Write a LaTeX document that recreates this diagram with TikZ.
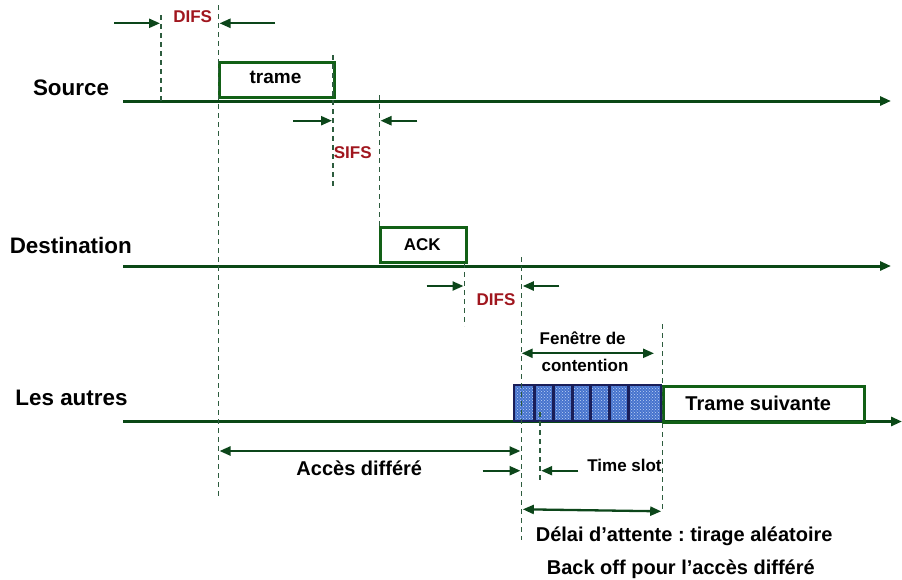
\documentclass[tikz,border=0pt]{standalone}
\usepackage{fontspec}
\setmainfont{Liberation Sans}
\usetikzlibrary{arrows.meta,patterns}
\frenchspacing

\definecolor{axisgreen}{RGB}{10,72,22}
\definecolor{framegreen}{RGB}{18,96,22}
\definecolor{dimgreen}{RGB}{12,70,26}
\definecolor{guidegreen}{RGB}{45,92,62}
\definecolor{ifsred}{RGB}{160,22,30}
\definecolor{slotnavy}{RGB}{26,30,88}
\definecolor{slotblue}{RGB}{70,115,205}
\definecolor{slotlight}{RGB}{190,210,245}

\tikzset{
  station/.style={font=\bfseries\fontsize{22.4}{26}\selectfont, inner sep=0pt},
  timeaxis/.style={draw=axisgreen, line width=3pt, -{Triangle[length=11pt,width=9pt]}},
  framebox/.style={draw=framegreen, line width=3pt, inner sep=0pt, anchor=north west},
  guide/.style={draw=guidegreen, line width=1.3pt, dash pattern=on 5pt off 4pt},
  dimarrow/.style={draw=dimgreen, line width=2.3pt, -{Triangle[length=11pt,width=9pt]}},
  dimboth/.style={draw=dimgreen, line width=2.3pt, {Triangle[length=11pt,width=9pt]}-{Triangle[length=11pt,width=9pt]}},
  ifslabel/.style={text=ifsred, font=\bfseries\fontsize{17}{20}\selectfont, inner sep=0pt},
  txt/.style={font=\bfseries\fontsize{20}{24}\selectfont, inner sep=0pt},
  smalltxt/.style={font=\bfseries\fontsize{17}{20}\selectfont, inner sep=0pt},
}

\begin{document}
\begin{tikzpicture}[x=1pt, y=-1pt]
\useasboundingbox (0,0) rectangle (902,579);

% ---- station labels
\node[station] (src) at (71,88)    {Source};
\node[station] (dst) at (70.8,245) {Destination};
\node[station] (oth) at (71.5,398) {Les autres};

% ---- time axes
\coordinate (srcA) at (123,101);   \coordinate (srcB) at (891,101);
\coordinate (dstA) at (123,266);   \coordinate (dstB) at (891,266);
\coordinate (othA) at (123,421.5); \coordinate (othB) at (902,421.5);
\draw[timeaxis] (srcA) -- (srcB);
\draw[timeaxis] (dstA) -- (dstB);
\draw[timeaxis] (othA) -- (othB);

% ---- frames
\node[framebox, minimum width=115pt, minimum height=35pt] (trame) at (218.3,61) {};
\node[txt, font=\bfseries\fontsize{19}{22}\selectfont] (trameT) at (275.5,77.5) {trame};
\node[framebox, minimum width=85.7pt, minimum height=35.3pt] (ack) at (379.3,225.7) {};
\node[smalltxt] (ackT) at (422.3,245) {ACK};
\node[framebox, minimum width=201pt, minimum height=35.7pt] (next) at (661.7,385) {};
\node[txt] (nextT) at (758.3,403) {Trame suivante};

% ---- contention window slots
\fill[slotblue] (514,385) rectangle (660.7,420.7);
\fill[pattern=crosshatch dots, pattern color=slotlight] (514,385) rectangle (660.7,420.7);
\draw[slotnavy, line width=2.4pt] (514,385) rectangle (660.7,420.7);
\foreach \xs in {534.7,553.7,572.2,590.7,609.7,628.3}
  \draw[slotnavy, line width=2.6pt] (\xs,385) -- (\xs,420.7);

% ---- dashed time marks
\coordinate (g1a) at (161,15);    \coordinate (g1b) at (161,101);
\coordinate (g2a) at (218.3,5);   \coordinate (g2b) at (218.3,499);
\coordinate (g3a) at (333,55);    \coordinate (g3b) at (333,189);
\coordinate (g4a) at (379.3,95);  \coordinate (g4b) at (379.3,226);
\coordinate (g5a) at (464.5,263); \coordinate (g5b) at (464.5,326);
\coordinate (g6a) at (521.7,257); \coordinate (g6b) at (521.7,540);
\coordinate (g7a) at (662.3,324); \coordinate (g7b) at (662.3,512);
\coordinate (g8a) at (540,412);   \coordinate (g8b) at (540,481);
\foreach \g in {1,...,8}
  \draw[guide] (g\g a) -- (g\g b);

% ---- DIFS (source)
\coordinate (d1a) at (114,23.3);  \coordinate (d1b) at (160,23.3);
\coordinate (d1c) at (275,23.3);  \coordinate (d1d) at (219.5,23.3);
\draw[dimarrow] (d1a) -- (d1b);
\draw[dimarrow] (d1c) -- (d1d);
\node[ifslabel] (difs1) at (192.7,17) {DIFS};

% ---- SIFS
\coordinate (s1a) at (293.3,120.7); \coordinate (s1b) at (332,120.7);
\coordinate (s1c) at (417.3,120.7); \coordinate (s1d) at (380.5,120.7);
\draw[dimarrow] (s1a) -- (s1b);
\draw[dimarrow] (s1c) -- (s1d);
\node[ifslabel] (sifs) at (352.7,152.7) {SIFS};

% ---- DIFS (destination)
\coordinate (d2a) at (426.7,286); \coordinate (d2b) at (463.5,286);
\coordinate (d2c) at (559.3,286); \coordinate (d2d) at (522.8,286);
\draw[dimarrow] (d2a) -- (d2b);
\draw[dimarrow] (d2c) -- (d2d);
\node[ifslabel] (difs2) at (496,299.3) {DIFS};

% ---- contention window
\coordinate (cwa) at (521.7,353.3); \coordinate (cwb) at (654,353.3);
\draw[dimboth] (cwa) -- (cwb);
\node[smalltxt] (cw1) at (582.7,338.3) {Fenêtre de};
\node[smalltxt] (cw2) at (585,365)     {contention};

% ---- deferred access
\coordinate (ada) at (219.5,451); \coordinate (adb) at (520.5,451);
\draw[dimboth] (ada) -- (adb);
\node[txt] (acc) at (359.3,468.3) {Accès différé};

% ---- time slot
\coordinate (tsa) at (482.7,470.7); \coordinate (tsb) at (520.5,470.7);
\coordinate (tsc) at (578.3,470.7); \coordinate (tsd) at (541.2,470.7);
\draw[dimarrow] (tsa) -- (tsb);
\draw[dimarrow] (tsc) -- (tsd);
\node[smalltxt] (slot) at (624.5,465) {Time slot};

% ---- back-off delay
\coordinate (boa) at (522.8,509.3); \coordinate (bob) at (661.2,511.3);
\draw[dimboth] (boa) -- (bob);
\node[txt] (bo1) at (684.2,536.7) {Délai d’attente : tirage aléatoire};
\node[txt] (bo2) at (680.8,569)   {Back off pour l’accès différé};
\end{tikzpicture}
\end{document}
